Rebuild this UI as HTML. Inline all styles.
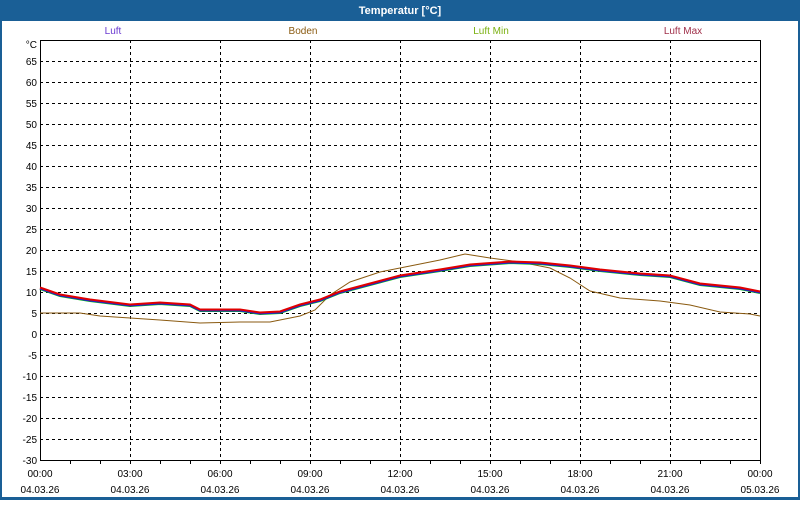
<!DOCTYPE html>
<html><head><meta charset="utf-8"><style>
body{margin:0;width:800px;height:500px;overflow:hidden;background:#fff;font-family:"Liberation Sans",sans-serif}
</style></head><body>
<svg width="800" height="500" xmlns="http://www.w3.org/2000/svg" font-family="Liberation Sans, sans-serif" font-size="10">
<rect x="0" y="0" width="800" height="500" fill="#1a5f96"/>
<rect x="2" y="21" width="796" height="476" fill="#fff"/>
<text x="400" y="14" fill="#fff" font-weight="bold" font-size="11" text-anchor="middle">Temperatur [°C]</text>
<text x="113" y="34" fill="#6a3ad0" text-anchor="middle">Luft</text>
<text x="303" y="34" fill="#8a5a10" text-anchor="middle">Boden</text>
<text x="491" y="34" fill="#7ab010" text-anchor="middle">Luft Min</text>
<text x="683" y="34" fill="#a0304a" text-anchor="middle">Luft Max</text>
<g stroke="#000" stroke-dasharray="3,3" stroke-width="1">
<line x1="40" x2="760" y1="61.5" y2="61.5"/><line x1="40" x2="760" y1="82.5" y2="82.5"/><line x1="40" x2="760" y1="103.5" y2="103.5"/><line x1="40" x2="760" y1="124.5" y2="124.5"/><line x1="40" x2="760" y1="145.5" y2="145.5"/><line x1="40" x2="760" y1="166.5" y2="166.5"/><line x1="40" x2="760" y1="187.5" y2="187.5"/><line x1="40" x2="760" y1="208.5" y2="208.5"/><line x1="40" x2="760" y1="229.5" y2="229.5"/><line x1="40" x2="760" y1="250.5" y2="250.5"/><line x1="40" x2="760" y1="271.5" y2="271.5"/><line x1="40" x2="760" y1="292.5" y2="292.5"/><line x1="40" x2="760" y1="313.5" y2="313.5"/><line x1="40" x2="760" y1="334.5" y2="334.5"/><line x1="40" x2="760" y1="355.5" y2="355.5"/><line x1="40" x2="760" y1="376.5" y2="376.5"/><line x1="40" x2="760" y1="397.5" y2="397.5"/><line x1="40" x2="760" y1="418.5" y2="418.5"/><line x1="40" x2="760" y1="439.5" y2="439.5"/>
<line x1="130.5" x2="130.5" y1="40" y2="460"/><line x1="220.5" x2="220.5" y1="40" y2="460"/><line x1="310.5" x2="310.5" y1="40" y2="460"/><line x1="400.5" x2="400.5" y1="40" y2="460"/><line x1="490.5" x2="490.5" y1="40" y2="460"/><line x1="580.5" x2="580.5" y1="40" y2="460"/><line x1="670.5" x2="670.5" y1="40" y2="460"/>
</g>
<rect x="40.5" y="40.5" width="720" height="420" fill="none" stroke="#000"/>
<g stroke="#000"><path d="M70.5 461v3M100.5 461v3M130.5 461v3M160.5 461v3M190.5 461v3M220.5 461v3M250.5 461v3M280.5 461v3M310.5 461v3M340.5 461v3M370.5 461v3M400.5 461v3M430.5 461v3M460.5 461v3M490.5 461v3M520.5 461v3M550.5 461v3M580.5 461v3M610.5 461v3M640.5 461v3M670.5 461v3M700.5 461v3M730.5 461v3M760.5 461v3"/></g>
<g fill="#000" text-anchor="end">
<text x="37" y="48">°C</text><text x="37" y="65">65</text><text x="37" y="86">60</text><text x="37" y="107">55</text><text x="37" y="128">50</text><text x="37" y="149">45</text><text x="37" y="170">40</text><text x="37" y="191">35</text><text x="37" y="212">30</text><text x="37" y="233">25</text><text x="37" y="254">20</text><text x="37" y="275">15</text><text x="37" y="296">10</text><text x="37" y="317">5</text><text x="37" y="338">0</text><text x="37" y="359">-5</text><text x="37" y="380">-10</text><text x="37" y="401">-15</text><text x="37" y="422">-20</text><text x="37" y="443">-25</text><text x="37" y="464">-30</text>
</g>
<g fill="#000" text-anchor="middle">
<text x="40" y="477">00:00</text><text x="130" y="477">03:00</text><text x="220" y="477">06:00</text><text x="310" y="477">09:00</text><text x="400" y="477">12:00</text><text x="490" y="477">15:00</text><text x="580" y="477">18:00</text><text x="670" y="477">21:00</text><text x="760" y="477">00:00</text>
<text x="40" y="493">04.03.26</text><text x="130" y="493">04.03.26</text><text x="220" y="493">04.03.26</text><text x="310" y="493">04.03.26</text><text x="400" y="493">04.03.26</text><text x="490" y="493">04.03.26</text><text x="580" y="493">04.03.26</text><text x="670" y="493">04.03.26</text><text x="760" y="493">05.03.26</text>
</g>
<path d="M40 313 L80 313 L100 316 L130 318 L160 320 L200 323 L240 322 L270 322 L300 316 L315 310 L330 295 L350 282 L380 272 L410 266 L440 260 L465 254 L490 258 L520 262 L550 268 L570 278 L590 291 L620 298 L660 301 L690 305 L720 312 L750 314 L760 316" fill="none" stroke="#8a5a10" stroke-width="1"/>
<g fill="none" stroke-width="2">
<path transform="translate(0,1)" d="M40 288 L60 295 L90 300 L130 305 L160 303 L190 305 L200 310 L240 310 L260 313 L280 312 L300 305 L320 300 L340 292 L370 284 L400 276 L440 270 L470 265 L510 262 L540 263 L570 266 L600 270 L640 274 L670 276 L700 284 L740 288 L760 292" stroke="#00c000"/>
<path transform="translate(0,0.5)" d="M40 288 L60 295 L90 300 L130 305 L160 303 L190 305 L200 310 L240 310 L260 313 L280 312 L300 305 L320 300 L340 292 L370 284 L400 276 L440 270 L470 265 L510 262 L540 263 L570 266 L600 270 L640 274 L670 276 L700 284 L740 288 L760 292" stroke="#2020d0"/>
<path transform="translate(0,-0.5)" d="M40 288 L60 295 L90 300 L130 305 L160 303 L190 305 L200 310 L240 310 L260 313 L280 312 L300 305 L320 300 L340 292 L370 284 L400 276 L440 270 L470 265 L510 262 L540 263 L570 266 L600 270 L640 274 L670 276 L700 284 L740 288 L760 292" stroke="#e00000"/>
</g>
</svg>
</body></html>
